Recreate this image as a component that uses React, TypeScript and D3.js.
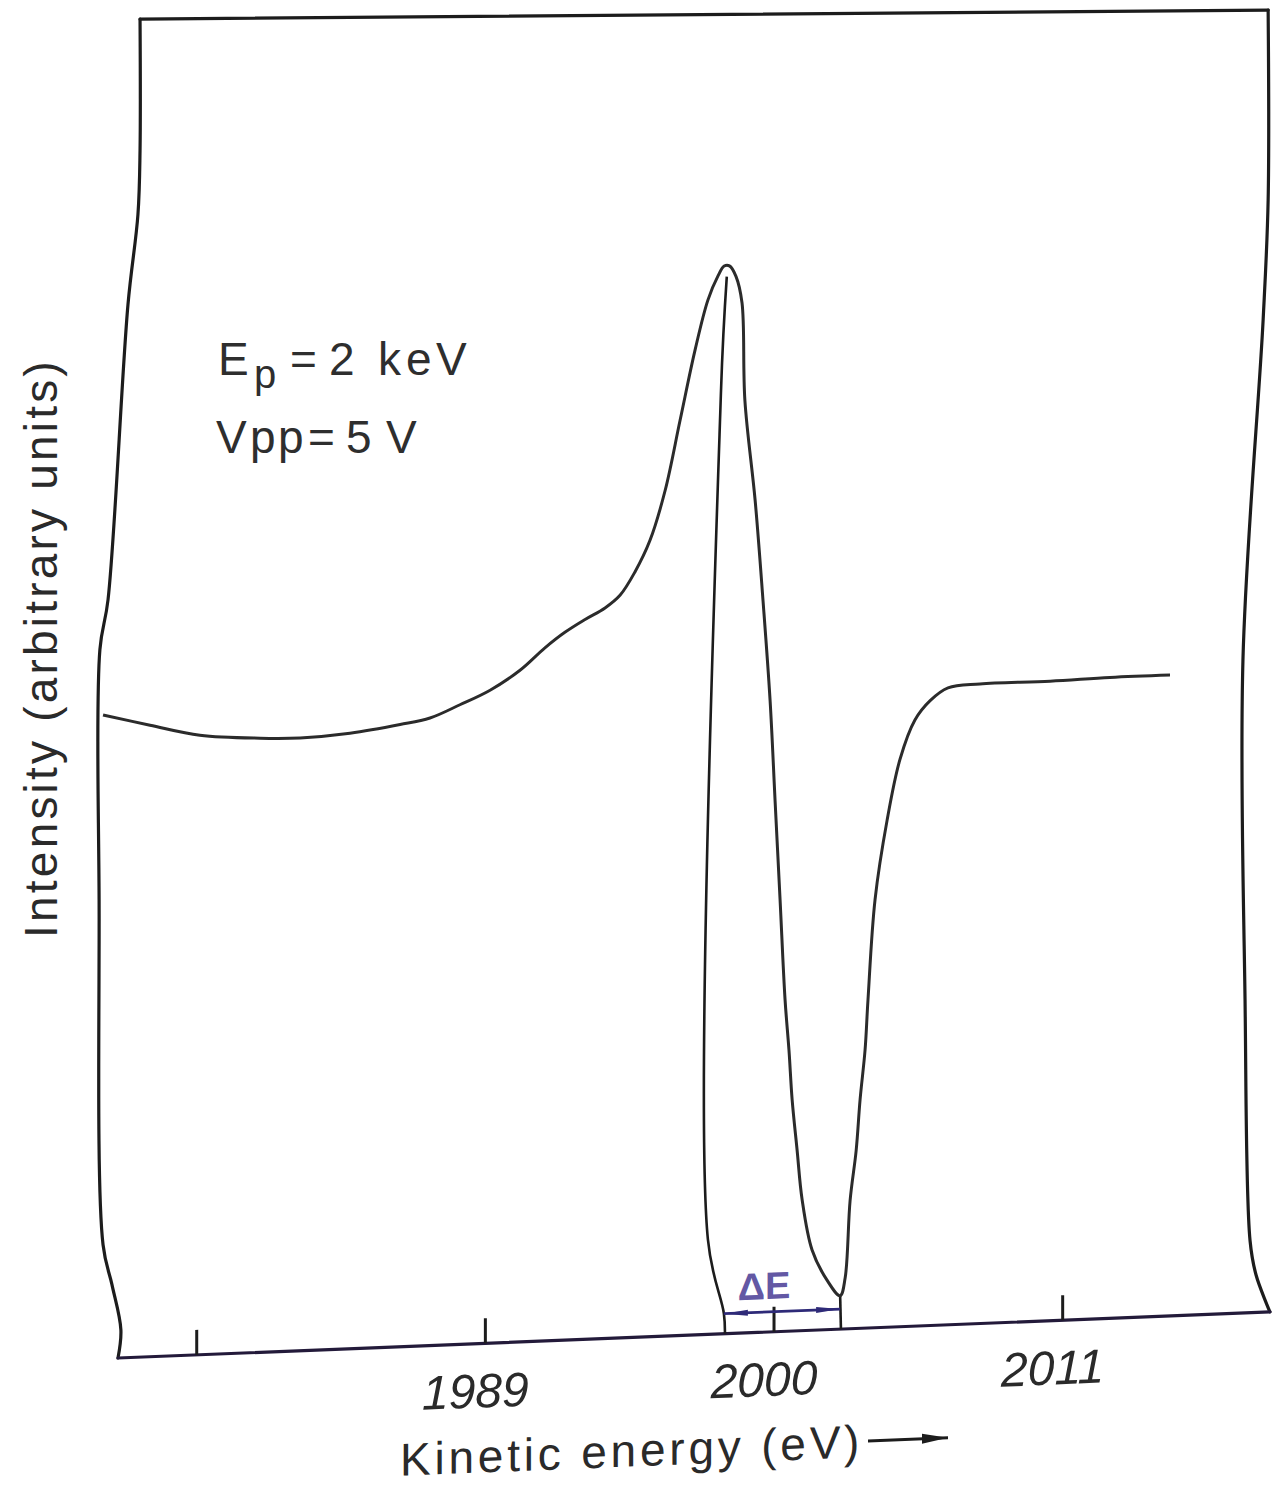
import React from "react";
import * as d3 from "d3";

// Spectrum trace: kinetic energy (eV) vs intensity (arbitrary units)
const energy = [
  1974.43, 1976.22, 1978.12, 1980.41, 1981.94, 1983.84, 1985.75, 1986.89, 1988.03, 1989.18,
  1990.32, 1991.27, 1992.03, 1992.8, 1993.56, 1994.13, 1994.7, 1995.27, 1995.85, 1996.42,
  1996.99, 1997.48, 1997.87, 1998.1, 1998.3, 1998.55, 1998.78, 1998.89, 1999.28, 1999.58, 1999.85,
  2000.04, 2000.23, 2000.42, 2000.57, 2000.69, 2000.88, 2001.07, 2001.45, 2002.02, 2002.52,
  2002.71, 2002.9, 2003.13, 2003.28, 2003.47, 2003.58, 2003.85, 2004.31, 2004.8, 2005.37,
  2005.95, 2006.63, 2007.85, 2010.52, 2012.8, 2015.09,
];
const intensity = [
  48.1, 47.2, 46.3, 45.9, 45.8, 46.0, 46.5, 46.9, 47.8, 48.8,
  50.2, 51.8, 52.9, 53.8, 54.6, 55.5, 57.2, 59.5, 63.2, 68.4,
  73.6, 77.3, 79.1, 79.8, 79.8, 79.0, 77.0, 69.7, 62.2, 54.7, 47.2,
  39.7, 32.3, 24.8, 21.0, 17.3, 13.5, 9.8, 6.0, 3.7, 2.5,
  3.8, 9.6, 13.3, 17.1, 20.8, 24.5, 32.0, 37.9, 42.4, 45.3,
  46.7, 47.6, 47.8, 47.8, 47.9, 47.9,
];

// Axis ticks (eV); the first tick is unlabelled
const tickEnergies = [1978, 1989, 2000, 2011];
const tickLabels = ["", "1989", "2000", "2011"];

// Hand-drawn frame, as [energy, intensity] pairs
const frameLeft: [number, number][] = [
  [1975.0, 0], [1975.11, 2.1], [1974.77, 5.5], [1974.43, 8.5], [1974.28, 34.3],
  [1974.31, 53.0], [1974.62, 56.7], [1975.38, 78.7], [1975.76, 85.4], [1975.84, 90.2], [1975.84, 100],
];
const frameTop: [number, number][] = [[1975.84, 100], [2018.83, 97.3]];
const frameRight: [number, number][] = [
  [2018.83, 97.3], [2018.83, 83.1], [2018.64, 74.2], [2017.87, 48.8], [2017.95, 23.4],
  [2018.14, 5.4], [2018.37, 2.8], [2018.9, 0],
];
const frameBottom: [number, number][] = [[2018.9, 0], [1975.0, 0]];

// Energy-width marker: drop line from the peak, drop line from the minimum
const peakDrop: [number, number][] = [[1998.2, 79.0], [1997.98, 70.5], [1997.48, 7.1], [1998.09, 1.5], [1998.13, 0]];
const minDrop: [number, number][] = [[2002.52, 2.5], [2002.55, 0]];
const deltaE = { from: 1998.09, to: 2002.52, level: 1.5 };

const W = 1280;
const H = 1488;
const SLOPE = 0.04; // page tilt of the plotted sheet
const X0 = 118;

const x = d3.scaleLinear().domain([1975, 2019]).range([118, 1272.6]);
const y = d3.scaleLinear().domain([0, 100]).range([1358, 20]);

const smooth = d3
  .line<[number, number]>()
  .x((d) => x(d[0]))
  .y((d) => y(d[1]))
  .curve(d3.curveCatmullRom.alpha(0.5));
const straight = d3
  .line<[number, number]>()
  .x((d) => x(d[0]))
  .y((d) => y(d[1]));

const ink = "#1c1c1c";
const font = "'Liberation Sans', Arial, sans-serif";

export default function App() {
  const trace: [number, number][] = energy.map((e, i) => [e, intensity[i]]);
  const y0 = y(0);

  return (
    <svg
      width={W}
      height={H}
      viewBox={`0 0 ${W} ${H}`}
      style={{ position: "absolute", left: 0, top: 0, background: "#fff" }}
    >
      <defs>
        <marker id="barHead" viewBox="0 0 24 8" refX="24" refY="4" markerWidth="24" markerHeight="8" orient="auto-start-reverse" markerUnits="userSpaceOnUse">
          <path d="M0,1 L24,4 L0,7 Z" fill="#2e2a78" />
        </marker>
        <marker id="axisArrow" viewBox="0 0 26 14" refX="26" refY="7" markerWidth="26" markerHeight="14" orient="auto" markerUnits="userSpaceOnUse">
          <path d="M0,2 L26,7 L0,12 Z" fill={ink} />
        </marker>
      </defs>

      <g transform={`matrix(1, ${-SLOPE}, 0, 1, 0, ${SLOPE * X0})`}>
        {/* frame */}
        <g fill="none" stroke={ink} strokeWidth={3.2} strokeLinejoin="round" strokeLinecap="round">
          <path d={smooth(frameLeft) ?? ""} />
          <path d={straight(frameTop) ?? ""} />
          <path d={smooth(frameRight) ?? ""} />
          <path d={straight(frameBottom) ?? ""} stroke="#231a3a" />
        </g>

        {/* ticks */}
        {tickEnergies.map((t) => (
          <line key={t} x1={x(t)} x2={x(t)} y1={y0} y2={y0 - 25} stroke={ink} strokeWidth={3} />
        ))}
        {tickEnergies.map((t, i) =>
          tickLabels[i] ? (
            <text
              key={`l${t}`}
              x={x(t) - 10}
              y={y0 + 64}
              textAnchor="middle"
              fontFamily={font}
              fontStyle="italic"
              fontSize={48}
              fill="#2a2a2a"
            >
              {tickLabels[i]}
            </text>
          ) : null
        )}

        {/* axis title */}
        <text x={400} y={y0 + 129} fontFamily={font} fontSize={46} letterSpacing={3.8} fill="#2a2a2a">
          Kinetic energy (eV)
        </text>
        <line x1={868} x2={948} y1={y0 + 113} y2={y0 + 113} stroke={ink} strokeWidth={3} markerEnd="url(#axisArrow)" />

        {/* energy-width marker */}
        <g fill="none" stroke={ink} strokeWidth={2.6}>
          <path d={smooth(peakDrop) ?? ""} />
          <path d={straight(minDrop) ?? ""} />
        </g>
        <line
          x1={x(deltaE.from)}
          x2={x(deltaE.to)}
          y1={y(deltaE.level)}
          y2={y(deltaE.level)}
          stroke="#2e2a78"
          strokeWidth={2.8}
          markerStart="url(#barHead)"
          markerEnd="url(#barHead)"
        />
        <text
          x={x((deltaE.from + deltaE.to) / 2) - 18}
          y={y(deltaE.level) - 13}
          textAnchor="middle"
          fontFamily={font}
          fontSize={38}
          fontWeight={600}
          fill="#6358a4"
        >
          ΔE
        </text>

        {/* spectrum */}
        <path d={smooth(trace) ?? ""} fill="none" stroke="#2b2b2b" strokeWidth={3} strokeLinejoin="round" />
      </g>

      {/* y-axis title */}
      <text
        transform="translate(57,648) rotate(-90)"
        textAnchor="middle"
        fontFamily={font}
        fontSize={46}
        letterSpacing={3.2}
        fill="#2a2a2a"
      >
        Intensity (arbitrary units)
      </text>

      {/* measurement conditions */}
      <g fontFamily={font} fontSize={46} fill="#2e2e2e">
        <text y={375}>
          <tspan x={218}>E</tspan>
          <tspan x={254} dy={13} fontSize={40}>p</tspan>
          <tspan x={290} dy={-13}>=</tspan>
          <tspan x={329}>2</tspan>
          <tspan x={378}>k</tspan>
          <tspan x={406}>e</tspan>
          <tspan x={436}>V</tspan>
        </text>
        <text y={453}>
          <tspan x={216}>V</tspan>
          <tspan x={250}>p</tspan>
          <tspan x={278}>p</tspan>
          <tspan x={308}>=</tspan>
          <tspan x={346}>5</tspan>
          <tspan x={386}>V</tspan>
        </text>
      </g>
    </svg>
  );
}
